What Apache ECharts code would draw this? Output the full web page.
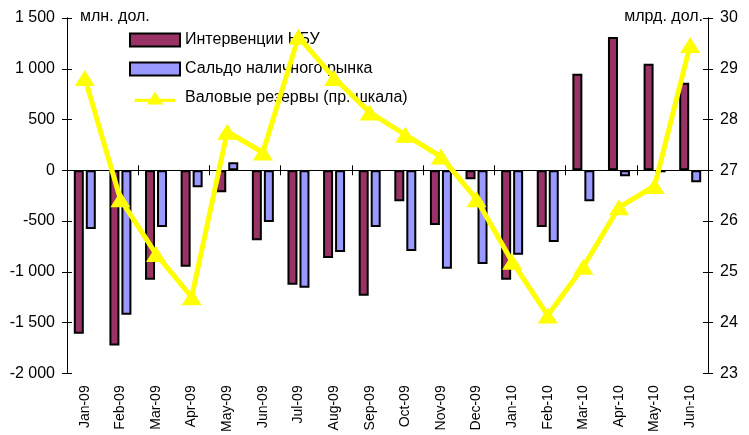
<!DOCTYPE html>
<html><head><meta charset="utf-8">
<script src="https://cdn.jsdelivr.net/npm/echarts@6/dist/echarts.min.js"></script>
<style>html,body{margin:0;padding:0;background:#fff}#c{width:749px;height:435px}</style>
</head><body><div id="c"></div>
<script>
var categories = ['Jan-09','Feb-09','Mar-09','Apr-09','May-09','Jun-09','Jul-09','Aug-09','Sep-09','Oct-09','Nov-09','Dec-09','Jan-10','Feb-10','Mar-10','Apr-10','May-10','Jun-10'];
var interventions = [-1610,-1725,-1078,-950,-216,-690,-1127,-863,-1235,-304,-539,-88,-1078,-559,951,1314,1049,863];
var cashBalance = [-578,-1422,-559,-167,78,-510,-1157,-804,-559,-794,-971,-922,-833,-706,-304,-59,-20,-118];
var reserves = [28.82,26.43,25.35,24.5,27.76,27.35,29.63,28.82,28.14,27.7,27.27,26.43,25.2,24.14,25.1,26.27,26.69,29.47];
var seriesNames = ['Интервенции НБУ','Сальдо наличного рынка','Валовые резервы (пр. шкала)'];
var leftUnit = 'млн. дол.';
var rightUnit = 'млрд. дол.';

var FONT = '"Liberation Sans", Arial, sans-serif';
function fmt(v){
  var s = Math.abs(v).toString();
  if (s.length > 3) s = s.slice(0, s.length-3) + ' ' + s.slice(s.length-3);
  return (v < 0 ? '-' : '') + s;
}
var chart = echarts.init(document.getElementById('c'), null, {renderer:'canvas'});
var axisLineStyle = {color:'#000', width:1};
var yBase = {type:'value', splitLine:{show:false}, axisLine:{show:true, lineStyle:axisLineStyle},
  axisTick:{show:true, length:5, lineStyle:axisLineStyle}};
chart.setOption({
  animation:false,
  textStyle:{fontFamily:FONT},
  grid:{left:67, right:41, top:18, bottom:60, containLabel:false},
  legend:{
    orient:'vertical', left:124, top:27, itemWidth:50, itemHeight:13, itemGap:13,
    textStyle:{fontFamily:FONT, fontSize:16, color:'#000'},
    data:[
      {name:seriesNames[0], icon:'rect', itemStyle:{color:'#993366', borderColor:'#000', borderWidth:2}},
      {name:seriesNames[1], icon:'rect', itemStyle:{color:'#9999FF', borderColor:'#000', borderWidth:2}},
      {name:seriesNames[2], icon:'path://M0,9 L50,9 L50,13 L0,13 Z M15,16 L25,0 L35,16 Z',
        itemStyle:{color:'#FFFF00', borderWidth:0}}
    ]
  },
  graphic:[
    {type:'text', left:80, top:9, style:{text:leftUnit, font:'16px '+FONT, fill:'#000'}},
    {type:'text', right:46, top:9, style:{text:rightUnit, font:'16px '+FONT, fill:'#000'}}
  ],
  xAxis:[
    {type:'category', data:categories, position:'bottom', axisLine:{show:false, onZero:false},
      axisTick:{show:false}, axisLabel:{rotate:90, interval:0, margin:12, fontSize:14, color:'#000', fontFamily:FONT}},
    {type:'category', data:categories, position:'bottom', axisLine:{show:true, onZero:true, onZeroAxisIndex:0, lineStyle:axisLineStyle},
      axisTick:{show:true, inside:true, length:5, lineStyle:axisLineStyle}, axisLabel:{show:false}},
    {type:'category', data:categories, position:'bottom', axisLine:{show:true, onZero:true, onZeroAxisIndex:0, lineStyle:axisLineStyle},
      axisTick:{show:true, inside:false, length:5, lineStyle:axisLineStyle}, axisLabel:{show:false}}
  ],
  yAxis:[
    Object.assign({}, yBase, {position:'left', min:-2000, max:1500, interval:500,
      axisLabel:{formatter:fmt, fontSize:16, color:'#000', margin:12, fontFamily:FONT}}),
    Object.assign({}, yBase, {position:'right', min:23, max:30, interval:1,
      axisLabel:{fontSize:16, color:'#000', margin:12, fontFamily:FONT}}),
    Object.assign({}, yBase, {position:'left', min:-2000, max:1500, interval:500,
      axisTick:{show:true, inside:true, length:5, lineStyle:axisLineStyle}, axisLabel:{show:false}}),
    Object.assign({}, yBase, {position:'right', min:23, max:30, interval:1,
      axisTick:{show:true, inside:true, length:5, lineStyle:axisLineStyle}, axisLabel:{show:false}})
  ],
  series:[
    {name:seriesNames[0], type:'bar', data:interventions, xAxisIndex:0, yAxisIndex:0, barWidth:10, barGap:'20%',
      itemStyle:{color:'#993366', borderColor:'#000', borderWidth:2}},
    {name:seriesNames[1], type:'bar', data:cashBalance, xAxisIndex:0, yAxisIndex:0, barWidth:10, barGap:'20%',
      itemStyle:{color:'#9999FF', borderColor:'#000', borderWidth:2}},
    {name:seriesNames[2], type:'line', data:reserves, xAxisIndex:0, yAxisIndex:1, z:5,
      symbol:'triangle', symbolSize:[20,16], lineStyle:{color:'#FFFF00', width:5},
      itemStyle:{color:'#FFFF00', borderWidth:0}}
  ]
});
</script></body></html>
